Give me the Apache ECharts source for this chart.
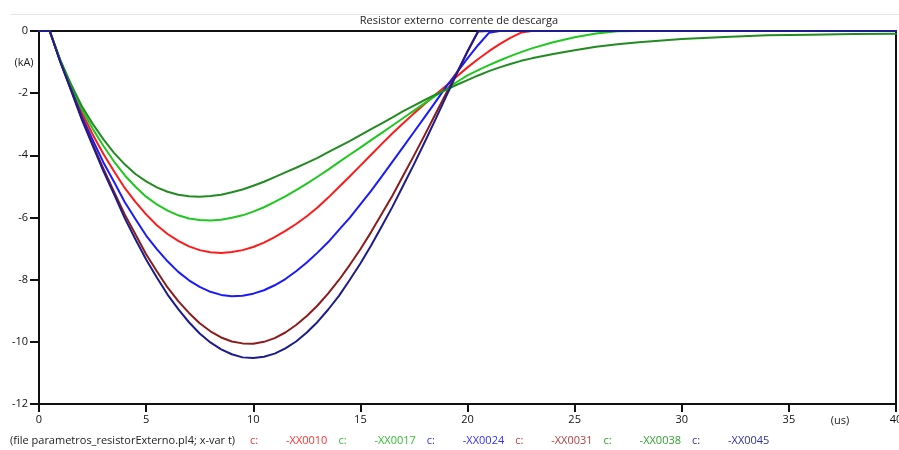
<!DOCTYPE html>
<html>
<head>
<meta charset="utf-8">
<script src="https://cdn.jsdelivr.net/npm/echarts@6/dist/echarts.min.js"></script>
<style>
html,body{margin:0;padding:0;background:#fff;}
#chart{width:899px;height:450px;}
</style>
</head>
<body>
<div id="chart"></div>
<script>
// time axis (us)
const T = [0, 0.5, 1, 1.5, 2, 2.5, 3, 3.5, 4, 4.5, 5, 5.5, 6, 6.5, 7, 7.5, 8, 8.5, 9, 9.5,
  10, 10.5, 11, 11.5, 12, 12.5, 13, 13.5, 14, 14.5, 15, 15.5, 16, 16.5, 17, 17.5, 18, 18.5, 19, 19.5,
  20, 20.5, 21, 21.5, 22, 22.5, 23, 24, 25, 26, 27, 28, 30, 32, 34, 36, 38, 40];

// currents (kA)
const XX0010 = [0, 0, -0.97, -1.82, -2.62, -3.32, -3.95, -4.51, -5.05, -5.50,
  -5.9, -6.25, -6.53, -6.75, -6.93, -7.05, -7.12, -7.14, -7.11, -7.05,
  -6.95, -6.81, -6.63, -6.43, -6.21, -5.96, -5.68, -5.36, -5.02, -4.68,
  -4.33, -3.98, -3.63, -3.29, -2.97, -2.65, -2.35, -2.05, -1.76, -1.46,
  -1.17, -0.9, -0.65, -0.42, -0.22, -0.05, 0,
  0, 0, 0, 0, 0, 0, 0, 0, 0, 0, 0];
const XX0017 = [0, 0, -0.96, -1.78, -2.52, -3.14, -3.69, -4.20, -4.64, -5.01,
  -5.33, -5.58, -5.78, -5.93, -6.03, -6.08, -6.10, -6.07, -6.01, -5.93,
  -5.81, -5.67, -5.50, -5.32, -5.12, -4.91, -4.69, -4.46, -4.22, -3.98,
  -3.75, -3.51, -3.28, -3.04, -2.8, -2.56, -2.32, -2.09, -1.86, -1.64,
  -1.43, -1.26, -1.1, -0.95, -0.81, -0.68, -0.56,
  -0.36, -0.2, -0.08, -0.01, 0, 0, 0, 0, 0, 0, 0];
const XX0024 = [0, 0, -0.98, -1.87, -2.75, -3.5, -4.22, -4.85, -5.5, -6.05,
  -6.58, -7.02, -7.41, -7.75, -8.02, -8.23, -8.39, -8.49, -8.53, -8.52,
  -8.45, -8.34, -8.18, -7.98, -7.73, -7.45, -7.13, -6.79, -6.40, -6.01,
  -5.58, -5.14, -4.68, -4.20, -3.73, -3.25, -2.77, -2.29, -1.80, -1.34,
  -0.88, -0.45, -0.06, 0, 0, 0, 0,
  0, 0, 0, 0, 0, 0, 0, 0, 0, 0, 0];
const XX0031 = [0, 0, -1.0, -1.9, -2.8, -3.63, -4.42, -5.17, -5.9, -6.54,
  -7.18, -7.73, -8.25, -8.69, -9.07, -9.40, -9.66, -9.86, -9.99, -10.05,
  -10.06, -10.00, -9.88, -9.70, -9.46, -9.17, -8.83, -8.44, -8.01, -7.53,
  -7.02, -6.47, -5.88, -5.29, -4.65, -4.01, -3.35, -2.68, -2.01, -1.34,
  -0.67, -0.02, 0, 0, 0, 0, 0,
  0, 0, 0, 0, 0, 0, 0, 0, 0, 0, 0];
const XX0038 = [0, 0, -0.95, -1.72, -2.42, -2.98, -3.48, -3.92, -4.29, -4.60,
  -4.84, -5.03, -5.17, -5.27, -5.32, -5.33, -5.31, -5.27, -5.19, -5.10,
  -4.98, -4.85, -4.70, -4.55, -4.40, -4.24, -4.08, -3.90, -3.72, -3.54,
  -3.35, -3.16, -2.97, -2.78, -2.58, -2.40, -2.22, -2.05, -1.89, -1.73,
  -1.58, -1.43, -1.29, -1.17, -1.06, -0.96, -0.88,
  -0.74, -0.62, -0.51, -0.43, -0.36, -0.26, -0.19, -0.14, -0.12, -0.1, -0.09];
const XX0045 = [0, 0, -1.0, -1.92, -2.85, -3.68, -4.5, -5.25, -6.02, -6.7,
  -7.35, -7.93, -8.48, -8.95, -9.37, -9.73, -10.02, -10.24, -10.40, -10.50,
  -10.52, -10.48, -10.38, -10.21, -9.99, -9.70, -9.36, -8.96, -8.52, -8.01,
  -7.48, -6.90, -6.28, -5.65, -4.97, -4.29, -3.58, -2.85, -2.11, -1.38,
  -0.65, 0, 0, 0, 0, 0, 0,
  0, 0, 0, 0, 0, 0, 0, 0, 0, 0, 0];

const seriesNames = ['XX0010', 'XX0017', 'XX0024', 'XX0031', 'XX0038', 'XX0045'];
const seriesValues = [XX0010, XX0017, XX0024, XX0031, XX0038, XX0045];
const seriesColors = ['#ff1a1a', '#1ec81e', '#1a1aff', '#8b1c1c', '#228b22', '#1c1c8c'];
const legendColors = ['#ff3030', '#30c030', '#3030ff', '#b04040', '#30a030', '#3030a0'];

const titleText = 'Resistor externo  corrente de descarga';
const fileText = '(file parametros_resistorExterno.pl4; x-var t)';
const yUnit = '(kA)';
const xUnit = '(us)';

const FONT = '"Open Sans", "Noto Sans", sans-serif';
const chart = echarts.init(document.getElementById('chart'), null, {renderer: 'canvas'});

const series = seriesNames.map((n, i) => ({
  name: n,
  type: 'line',
  data: T.map((t, j) => [t, seriesValues[i][j]]),
  showSymbol: false,
  smooth: false,
  clip: true,
  lineStyle: {color: seriesColors[i], width: 2, join: 'round', cap: 'round'},
  itemStyle: {color: seriesColors[i]},
  z: 2 + i,
  animation: false
}));

const graphics = [
  {type: 'line', shape: {x1: 10, y1: 14.5, x2: 899, y2: 14.5}, style: {stroke: '#e6e6e6', lineWidth: 1}, silent: true},
  {type: 'text', x: 459, y: 21, style: {text: titleText, font: '11px ' + FONT, fill: '#222', textAlign: 'center', textVerticalAlign: 'middle'}},
  {type: 'text', x: 24, y: 63, style: {text: yUnit, font: '11px ' + FONT, fill: '#222', textAlign: 'center', textVerticalAlign: 'middle'}},
  {type: 'text', x: 840, y: 421, style: {text: xUnit, font: '11px ' + FONT, fill: '#222', textAlign: 'center', textVerticalAlign: 'middle'}},
  {type: 'text', x: 10, y: 441, style: {text: fileText, font: '11px ' + FONT, fill: '#222', textAlign: 'left', textVerticalAlign: 'middle'}}
];
seriesNames.forEach((n, i) => {
  const cx = 250 + i * 88.4;
  graphics.push({type: 'text', x: cx, y: 441, style: {text: 'c:', font: '11px ' + FONT, fill: legendColors[i], textAlign: 'left', textVerticalAlign: 'middle'}});
  graphics.push({type: 'text', x: cx + 36, y: 441, style: {text: '-' + n, font: '11px ' + FONT, fill: legendColors[i], textAlign: 'left', textVerticalAlign: 'middle'}});
});

chart.setOption({
  backgroundColor: '#ffffff',
  animation: false,
  grid: {left: 39, right: 3, top: 31, bottom: 46, show: true, borderColor: '#111', borderWidth: 2, backgroundColor: 'transparent', containLabel: false, outerBoundsMode: 'none'},
  xAxis: {
    type: 'value', min: 0, max: 40, interval: 5,
    axisLine: {show: true, onZero: false, lineStyle: {color: '#111', width: 2}},
    axisTick: {show: true, length: 8, lineStyle: {color: '#111', width: 2}},
    axisLabel: {show: true, margin: 10, color: '#111', fontSize: 11, fontFamily: FONT, showMaxLabel: true},
    splitLine: {show: false}
  },
  yAxis: {
    type: 'value', min: -12, max: 0, interval: 2,
    axisLine: {show: true, onZero: false, lineStyle: {color: '#111', width: 2}},
    axisTick: {show: true, length: 9, lineStyle: {color: '#111', width: 2}},
    axisLabel: {show: true, margin: 11, color: '#111', fontSize: 11, fontFamily: FONT},
    splitLine: {show: false}
  },
  series: series,
  graphic: graphics
});
</script>
</body>
</html>
